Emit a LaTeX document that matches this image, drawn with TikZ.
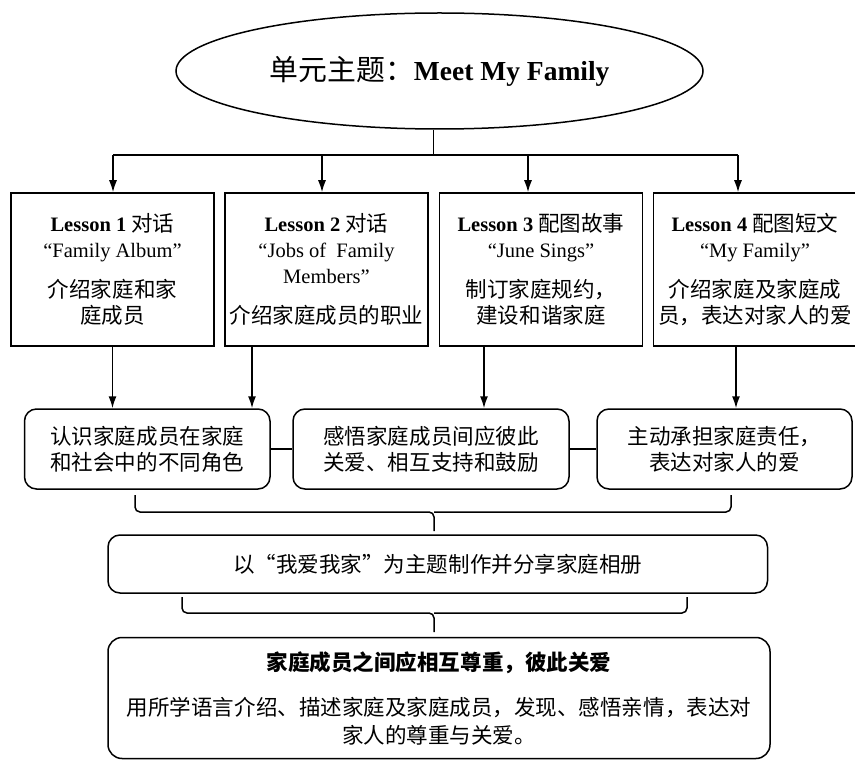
\documentclass[tikz,border=0pt]{standalone}
\usepackage{fontspec}
\setmainfont{Liberation Serif}
\newfontfamily\cjk[Scale=1.05]{Noto Sans CJK SC}
\usetikzlibrary{arrows.meta,shapes.geometric}

\begin{document}
\begin{tikzpicture}[x=1pt,y=1pt,yscale=-1,xscale=1,line width=1.5pt,
  every node/.style={font=\fontsize{20.5}{26}\selectfont,align=center,inner sep=1pt},
  lesson/.style={draw,rectangle,minimum width=203pt,minimum height=153pt},
  goal/.style={draw,rectangle,rounded corners=12pt,minimum height=80pt,font=\fontsize{20.5}{26}\selectfont\cjk},
  arr/.style={-{Latex[length=12pt,width=8pt]}}]
\useasboundingbox (0,0) rectangle (855,762);

%Shape: Ellipse [theme]
\node [draw,ellipse,minimum width=527pt,minimum height=116pt,font=\fontsize{27.5}{32}\selectfont] (theme) at (439.5,71) {{\cjk 单元主题：}\textbf{Meet My Family}};

%Shape: Rectangles [lessons]
\node [lesson] (les1) at (112.5,269.5) {\textbf{Lesson 1} {\cjk 对话}\\“Family Album”\\[14pt]{\cjk 介绍家庭和家}\\{\cjk 庭成员}};
\node [lesson] (les2) at (326.5,269.5) {\textbf{Lesson 2} {\cjk 对话}\\“Jobs of\ \ Family\\Members”\\[14pt]{\cjk 介绍家庭成员的职业}};
\node [lesson] (les3) at (541,269.5) {\textbf{Lesson 3} {\cjk 配图故事}\\“June Sings”\\[14pt]{\cjk 制订家庭规约，}\\{\cjk 建设和谐家庭}};
\node [lesson] (les4) at (755,269.5) {\textbf{Lesson 4} {\cjk 配图短文}\\“My Family”\\[14pt]{\cjk 介绍家庭及家庭成}\\{\cjk 员，表达对家人的爱}};

%Shape: Rounded Rectangles [goals]
\node [goal,minimum width=245.5pt] (goalA) at (147.25,449) {认识家庭成员在家庭\\和社会中的不同角色};
\node [goal,minimum width=276pt] (goalB) at (431,449) {感悟家庭成员间应彼此\\关爱、相互支持和鼓励};
\node [goal,minimum width=255pt] (goalC) at (724.5,449) {主动承担家庭责任，\\表达对家人的爱};

%Shape: Rounded Rectangles [project, summary]
\node [goal,minimum width=659.5pt,minimum height=58pt] (project) at (437.75,564) {以“我爱我家”为主题制作并分享家庭相册};
\node [goal,rounded corners=14pt,minimum width=662pt,minimum height=121pt,font=\fontsize{20.5}{28}\selectfont\cjk] (summary) at (439,698) {\textbf{家庭成员之间应相互尊重，彼此关爱}\\[17pt]用所学语言介绍、描述家庭及家庭成员，发现、感悟亲情，表达对\\家人的尊重与关爱。};

%Straight Lines [bus]
\coordinate (bus) at (433.5,155);
\coordinate (bus1) at (113,155);
\coordinate (bus2) at (322,155);
\coordinate (bus3) at (528,155);
\coordinate (bus4) at (738,155);
\draw (bus |- theme.south) -- (bus);
\draw (bus1) -- (bus4);
\foreach \i in {1,...,4}
  \draw [arr] (bus\i) -- (bus\i |- les\i.north);

%Straight Lines [lessons to goals]
\draw [arr] (les1.south) -- (les1.south |- goalA.north);
\draw [arr] ([xshift=-74.5pt]les2.south) -- ([xshift=-74.5pt]les2.south |- goalA.north);
\draw [arr] ([xshift=-57pt]les3.south) -- ([xshift=-57pt]les3.south |- goalB.north);
\draw [arr] ([xshift=-19pt]les4.south) -- ([xshift=-19pt]les4.south |- goalC.north);
\draw (goalA) -- (goalB);
\draw (goalB) -- (goalC);

%Brackets
\draw [rounded corners=5pt] (135,495) -- (135,512) -- (434,512) -- (434,531);
\draw [rounded corners=5pt] (731,495) -- (731,512) -- (434,512);
\draw [rounded corners=5pt] (182,597) -- (182,613) -- (434,613) -- (434,632);
\draw [rounded corners=5pt] (687,597) -- (687,613) -- (434,613);

\end{tikzpicture}
\end{document}
